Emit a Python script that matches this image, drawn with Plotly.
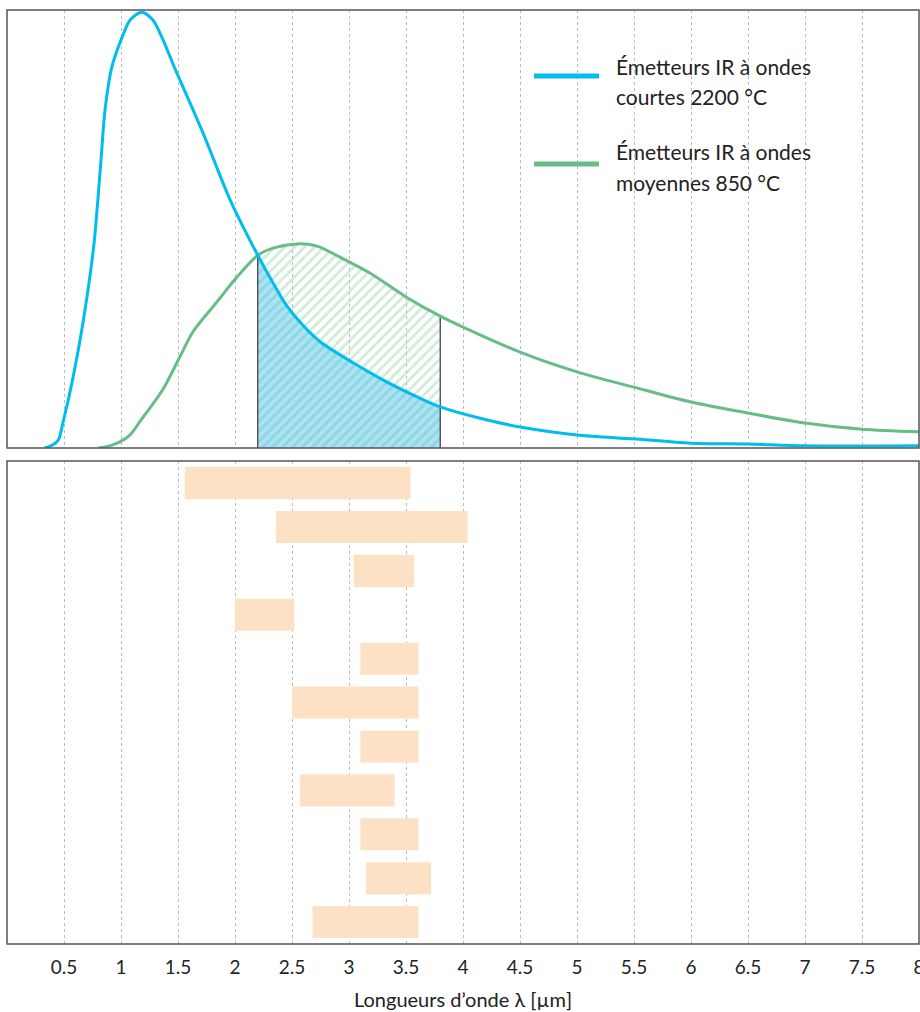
import plotly.graph_objects as go

# ---------------- data ----------------
# Short-wave IR emitter 2200 °C (relative intensity)
blue_x = [0.33, 0.40, 0.45, 0.49, 0.58, 0.67, 0.76, 0.82, 0.86, 0.92, 1.01, 1.08, 1.18, 1.28, 1.49, 1.72, 1.96,
          2.20, 2.34, 2.45, 2.60, 2.75, 3.04, 3.33, 3.62, 3.80, 4.15, 4.50, 5.00, 5.49, 6.00, 6.50, 7.00, 8.00]
blue_y = [0.0, 0.7, 1.8, 5.7, 16.2, 29.2, 45.9, 64.2, 77.2, 87.0, 93.8, 97.7, 99.5, 97.7, 85.6, 71.9, 56.5,
          44.0, 37.4, 32.6, 27.9, 24.2, 19.4, 15.1, 11.4, 9.4, 6.8, 4.8, 3.0, 2.1, 1.1, 0.9, 0.5, 0.5]

# Medium-wave IR emitter 850 °C
green_x = [0.80, 0.90, 0.99, 1.08, 1.17, 1.37, 1.52, 1.63, 1.84, 2.01, 2.20, 2.34, 2.54, 2.72, 2.92, 3.18,
           3.50, 3.80, 4.00, 4.50, 5.00, 5.50, 6.00, 6.50, 7.00, 7.50, 8.00]
green_y = [0.0, 0.5, 1.4, 3.0, 6.2, 13.5, 21.0, 26.5, 33.3, 38.8, 44.0, 45.7, 46.6, 46.1, 43.6, 40.0,
           34.5, 30.1, 27.6, 21.9, 17.4, 13.9, 10.5, 8.0, 5.7, 4.3, 3.7]

band_start, band_end = 2.2, 3.8

# absorption ranges (bottom panel), µm
categories = ["1", "2", "3", "4", "5", "6", "7", "8", "9", "10", "11"]
range_start = [1.56, 2.36, 3.04, 2.00, 3.10, 2.50, 3.10, 2.57, 3.10, 3.15, 2.68]
range_end = [3.54, 4.04, 3.57, 2.52, 3.61, 3.61, 3.61, 3.40, 3.61, 3.72, 3.61]

tick_vals = [0.5, 1, 1.5, 2, 2.5, 3, 3.5, 4, 4.5, 5, 5.5, 6, 6.5, 7, 7.5, 8]
tick_text = ["0.5", "1", "1.5", "2", "2.5", "3", "3.5", "4", "4.5", "5", "5.5", "6", "6.5", "7", "7.5", "8"]

legend_names = ["Émetteurs IR à ondes<br>courtes 2200 °C", "Émetteurs IR à ondes<br>moyennes 850 °C"]

BLUE = "#00bdec"
GREEN = "#66bd88"
FONT = "Lato"
FRAME = "#555555"

# ---------------- figure ----------------
fig = go.Figure()

# segments inside the highlighted band
b_seg = [(x, y) for x, y in zip(blue_x, blue_y) if band_start <= x <= band_end]
g_seg = [(x, y) for x, y in zip(green_x, green_y) if band_start <= x <= band_end]
bsx = [p[0] for p in b_seg]
bsy = [p[1] for p in b_seg]
gsx = [p[0] for p in g_seg]
gsy = [p[1] for p in g_seg]

# blue hatched area under the short-wave curve
fig.add_trace(go.Scatter(
    x=bsx, y=bsy, mode="lines", line=dict(width=0, shape="spline"),
    fill="tozeroy", fillcolor="#a9e3f4",
    fillpattern=dict(shape="/", bgcolor="#a9e3f4", fgcolor="#74c8c9", size=7, solidity=0.4),
    showlegend=False, hoverinfo="skip", xaxis="x", yaxis="y"))

# green hatched area between the curves
fig.add_trace(go.Scatter(
    x=gsx + bsx[::-1], y=gsy + bsy[::-1], mode="lines", line=dict(width=0),
    fill="toself", fillcolor="rgba(255,255,255,0)",
    fillpattern=dict(shape="/", bgcolor="rgba(255,255,255,0)", fgcolor="#a4d8b4", size=7, solidity=0.4),
    showlegend=False, hoverinfo="skip", xaxis="x", yaxis="y"))

# band edges
fig.add_trace(go.Scatter(
    x=[band_start, band_start, None, band_end, band_end],
    y=[0, gsy[0], None, 0, gsy[-1]],
    mode="lines", line=dict(color="#111111", width=1),
    showlegend=False, hoverinfo="skip", xaxis="x", yaxis="y"))

# curves
fig.add_trace(go.Scatter(x=green_x, y=green_y, mode="lines", name=legend_names[1],
                         line=dict(color=GREEN, width=3, shape="spline", smoothing=0.8),
                         showlegend=False, xaxis="x", yaxis="y"))
fig.add_trace(go.Scatter(x=blue_x, y=blue_y, mode="lines", name=legend_names[0],
                         line=dict(color=BLUE, width=3, shape="spline", smoothing=0.8),
                         showlegend=False, xaxis="x", yaxis="y"))

# bottom panel bars
fig.add_trace(go.Bar(
    y=categories, x=[e - s for s, e in zip(range_start, range_end)], base=range_start,
    orientation="h", marker=dict(color="#fde1c5", line=dict(width=0)),
    showlegend=False, hoverinfo="skip", xaxis="x2", yaxis="y2"))

axis_common = dict(
    range=[0, 8], tickvals=tick_vals, showgrid=True, gridcolor="#bcbcbc", griddash="dot",
    gridwidth=1, zeroline=False, showline=False, ticks="", automargin=False,
)

fig.update_layout(
    width=920, height=1012,
    margin=dict(l=7, r=1, t=10, b=68),
    paper_bgcolor="white", plot_bgcolor="white",
    font=dict(family=FONT, color="#222222"),
    bargap=0.27,
    xaxis=dict(**axis_common, showticklabels=False, anchor="y", matches="x2"),
    yaxis=dict(domain=[0.531, 1.0], range=[0, 100], showgrid=False, zeroline=False,
               showticklabels=False, showline=False, ticks="", anchor="x", automargin=False),
    xaxis2=dict(**axis_common, ticktext=tick_text, anchor="y2", ticklabelstandoff=10,
                ticklabeloverflow="allow",
                tickfont=dict(family=FONT, size=19, color="#222222"),
                title=dict(text="Longueurs d’onde λ [µm]", font=dict(family=FONT, size=20, color="#222222"),
                           standoff=15)),
    yaxis2=dict(domain=[0.0, 0.517], type="category", autorange="reversed", showgrid=False,
                zeroline=False, showticklabels=False, showline=False, ticks="", anchor="x2",
                automargin=False),
)

# panel frames
for xr, yr in [("x domain", "y domain"), ("x2 domain", "y2 domain")]:
    fig.add_shape(type="rect", xref=xr, yref=yr, x0=0, x1=1, y0=0, y1=1,
                  line=dict(color=FRAME, width=1.5), fillcolor="rgba(0,0,0,0)", layer="above")

# manual legend
legend_items = [(BLUE, legend_names[0], 0.9293, [0.9390, 0.9079]),
                (GREEN, legend_names[1], 0.8351, [0.8480, 0.8158])]
for color, text, yline, ytexts in legend_items:
    fig.add_shape(type="line", xref="paper", yref="paper", x0=0.5779, x1=0.6491, y0=yline, y1=yline,
                  line=dict(color=color, width=5))
    for line_text, yt in zip(text.split("<br>"), ytexts):
        fig.add_annotation(xref="paper", yref="paper", x=0.6656, y=yt, xanchor="left", yanchor="middle",
                           text=line_text, showarrow=False, align="left",
                           font=dict(family=FONT, size=21, color="#222222"))

# let the 920x1012 figure fill the window exactly (no default page margin / scrollbars)
page_css = ("document.body.style.margin='0';"
            "document.documentElement.style.overflow='hidden';"
            "document.body.style.overflow='hidden';")

fig.write_html("out.html", post_script=page_css, config={"displayModeBar": False})
